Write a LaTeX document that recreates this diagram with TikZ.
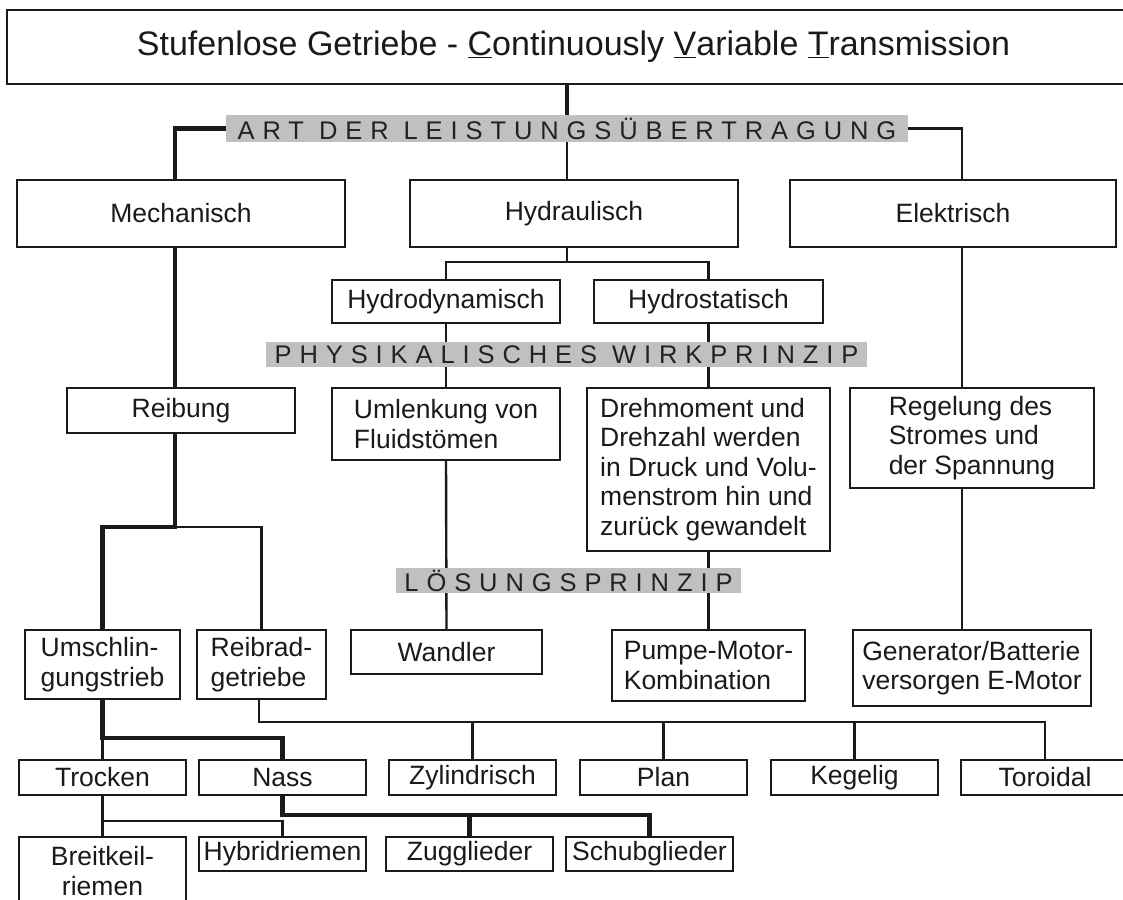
\documentclass[tikz,border=0pt]{standalone}
\usepackage{fontspec}
\setmainfont{Liberation Sans}
\usetikzlibrary{calc}
\pgfdeclarelayer{bg}
\pgfsetlayers{bg,main}
\definecolor{ink}{HTML}{1A1A1A}
\definecolor{barfill}{HTML}{C0C0C0}
\definecolor{bartext}{HTML}{222222}
\newcommand\bx[6]{\node[box, minimum width={(#4-#2)*1pt}, minimum height={(#5-#3)*1pt}] (#1) at ({(#2+#4)/2},{(#3+#5)/2}) {#6};}
\begin{document}
\begin{tikzpicture}[x=1pt,y=-1pt,
 box/.style={draw=ink, line width=1.8pt, fill=white, inner sep=0pt, text=ink, font=\fontsize{26.5}{29.5}\selectfont, align=left},
 bar/.style={fill=barfill, inner sep=0pt, text=bartext, font=\fontsize{25.5}{25.5}\selectfont\addfontfeature{LetterSpace=31}},
 thinc/.style={draw=ink, line width=2.4pt},
 thickc/.style={draw=ink, line width=4.2pt},
]
\useasboundingbox (0,0) rectangle (1123,899);
\begin{pgfonlayer}{bg}
\fill[white] (0,0) rectangle (1123,899);
\end{pgfonlayer}

% boxes
\node[box, minimum width=1133pt, minimum height=74pt, font=\fontsize{34}{34}\selectfont] (title) at (573.5,47)
  {Stufenlose Getriebe - \underline{C}ontinuously \underline{V}ariable \underline{T}ransmission};
\bx{mech}{17}{180}{345}{247}{Mechanisch}
\bx{hydr}{410}{180}{738}{247}{Hydraulisch}
\bx{elek}{790}{180}{1116}{247}{Elektrisch}
\bx{hdyn}{332}{280}{560}{323}{Hydrodynamisch}
\bx{hsta}{594}{280}{823}{323}{Hydrostatisch}
\bx{reib}{67}{388}{295}{433}{Reibung}
\bx{umle}{332}{388}{560}{460}{Umlenkung von\\Fluidstömen}
\bx{dreh}{587}{388}{830}{551}{Drehmoment und\\Drehzahl werden\\in Druck und Volu-\\menstrom hin und\\zurück gewandelt}
\bx{rege}{850}{388}{1094}{488}{Regelung des\\Stromes und\\der Spannung}
\bx{umsc}{25}{630}{180}{699}{Umschlin-\\gungstrieb}
\bx{rrad}{197}{630}{326}{699}{Reibrad-\\getriebe}
\bx{wand}{351}{630}{542}{674}{Wandler}
\bx{pump}{612}{630}{805}{701}{Pumpe-Motor-\\Kombination}
\bx{gene}{853}{630}{1091}{706}{Generator/Batterie\\versorgen E-Motor}
\bx{troc}{19}{760}{186}{795}{Trocken}
\bx{nass}{199}{760}{366}{795}{Nass}
\bx{zyl}{389}{760}{556}{795}{Zylindrisch}
\bx{plan}{580}{760}{747}{795}{Plan}
\bx{keg}{771}{760}{938}{795}{Kegelig}
\bx{tor}{961}{760}{1129}{795}{Toroidal}
\node[box, align=center, minimum width=167pt, minimum height=68pt] (brei) at (102.5,871) {Breitkeil-\\riemen};
\bx{hybr}{199}{837}{366}{871}{Hybridriemen}
\bx{zug}{386}{837}{553}{871}{Zugglieder}
\bx{schub}{566}{837}{733}{871}{Schubglieder}

% bars
\node[bar, minimum width=682pt, minimum height=27pt] (bar1) at (567,128.5) {ART DER LEISTUNGSÜBERTRAGUNG};
\node[bar, minimum width=601pt, minimum height=25pt] (bar2) at (566.5,354.5) {PHYSIKALISCHES WIRKPRINZIP};
\node[bar, minimum width=345pt, minimum height=25pt] (bar3) at (568.5,580.5) {LÖSUNGSPRINZIP};

% helper coordinates
\coordinate (xc) at (567,0);
\coordinate (xm) at (175,0);
\coordinate (xe) at (962,0);
\coordinate (hsplit) at (567,262);
\coordinate (rsplit) at (175,527);
\coordinate (usplit) at (103,738);
\coordinate (rrsplit) at (259,722);
\coordinate (tsplit) at (103,821);
\coordinate (nsplit) at (283,815);

\begin{pgfonlayer}{bg}
\draw[thickc] (title.south -| xc) -- (bar1.north -| xc);
\draw[thinc] (bar1.south -| xc) -- (hydr.north -| xc);
\draw[thickc] (bar1.west) -| (mech.north -| xm);
\draw[thinc] (bar1.east) -| (elek.north -| xe);
\draw[thinc] (hydr.south -| xc) -- (hsplit);
\draw[thinc] (hdyn.north) |- (hsplit) -| (hsta.north);
\draw[thinc] (hdyn.south) -- (umle.north);
\draw[thinc] (hsta.south) -- (dreh.north);
\draw[thinc] (elek.south -| xe) -- (rege.north -| xe);
\draw[thinc] (rege.south -| xe) -- (gene.north -| xe);
\draw[thinc] (umle.south) -- (wand.north);
\draw[thinc] (dreh.south) -- (pump.north);
\draw[thickc] (mech.south -| xm) -- (reib.north -| xm);
\draw[thickc] (reib.south -| xm) -- (rsplit) -| (umsc.north);
\draw[thinc] (rsplit) -| (rrad.north);
\draw[thickc] (umsc.south) -- (umsc.south |- usplit) -| (nass.north);
\draw[thinc] (umsc.south |- usplit) -- (troc.north);
\draw[thinc] (rrad.south -| rrsplit) |- (tor.north |- rrsplit) -- (tor.north);
\draw[thinc] (zyl.north) -- (zyl.north |- rrsplit);
\draw[thinc] (plan.north) -- (plan.north |- rrsplit);
\draw[thinc] (keg.north) -- (keg.north |- rrsplit);
\draw[thinc] (troc.south) -- (brei.north);
\draw[thinc] (troc.south |- tsplit) -| (hybr.north);
\draw[thickc] (nass.south) |- (schub.north |- nsplit) -- (schub.north);
\draw[thickc] (zug.north |- nsplit) -- (zug.north);
\end{pgfonlayer}
\end{tikzpicture}
\end{document}
